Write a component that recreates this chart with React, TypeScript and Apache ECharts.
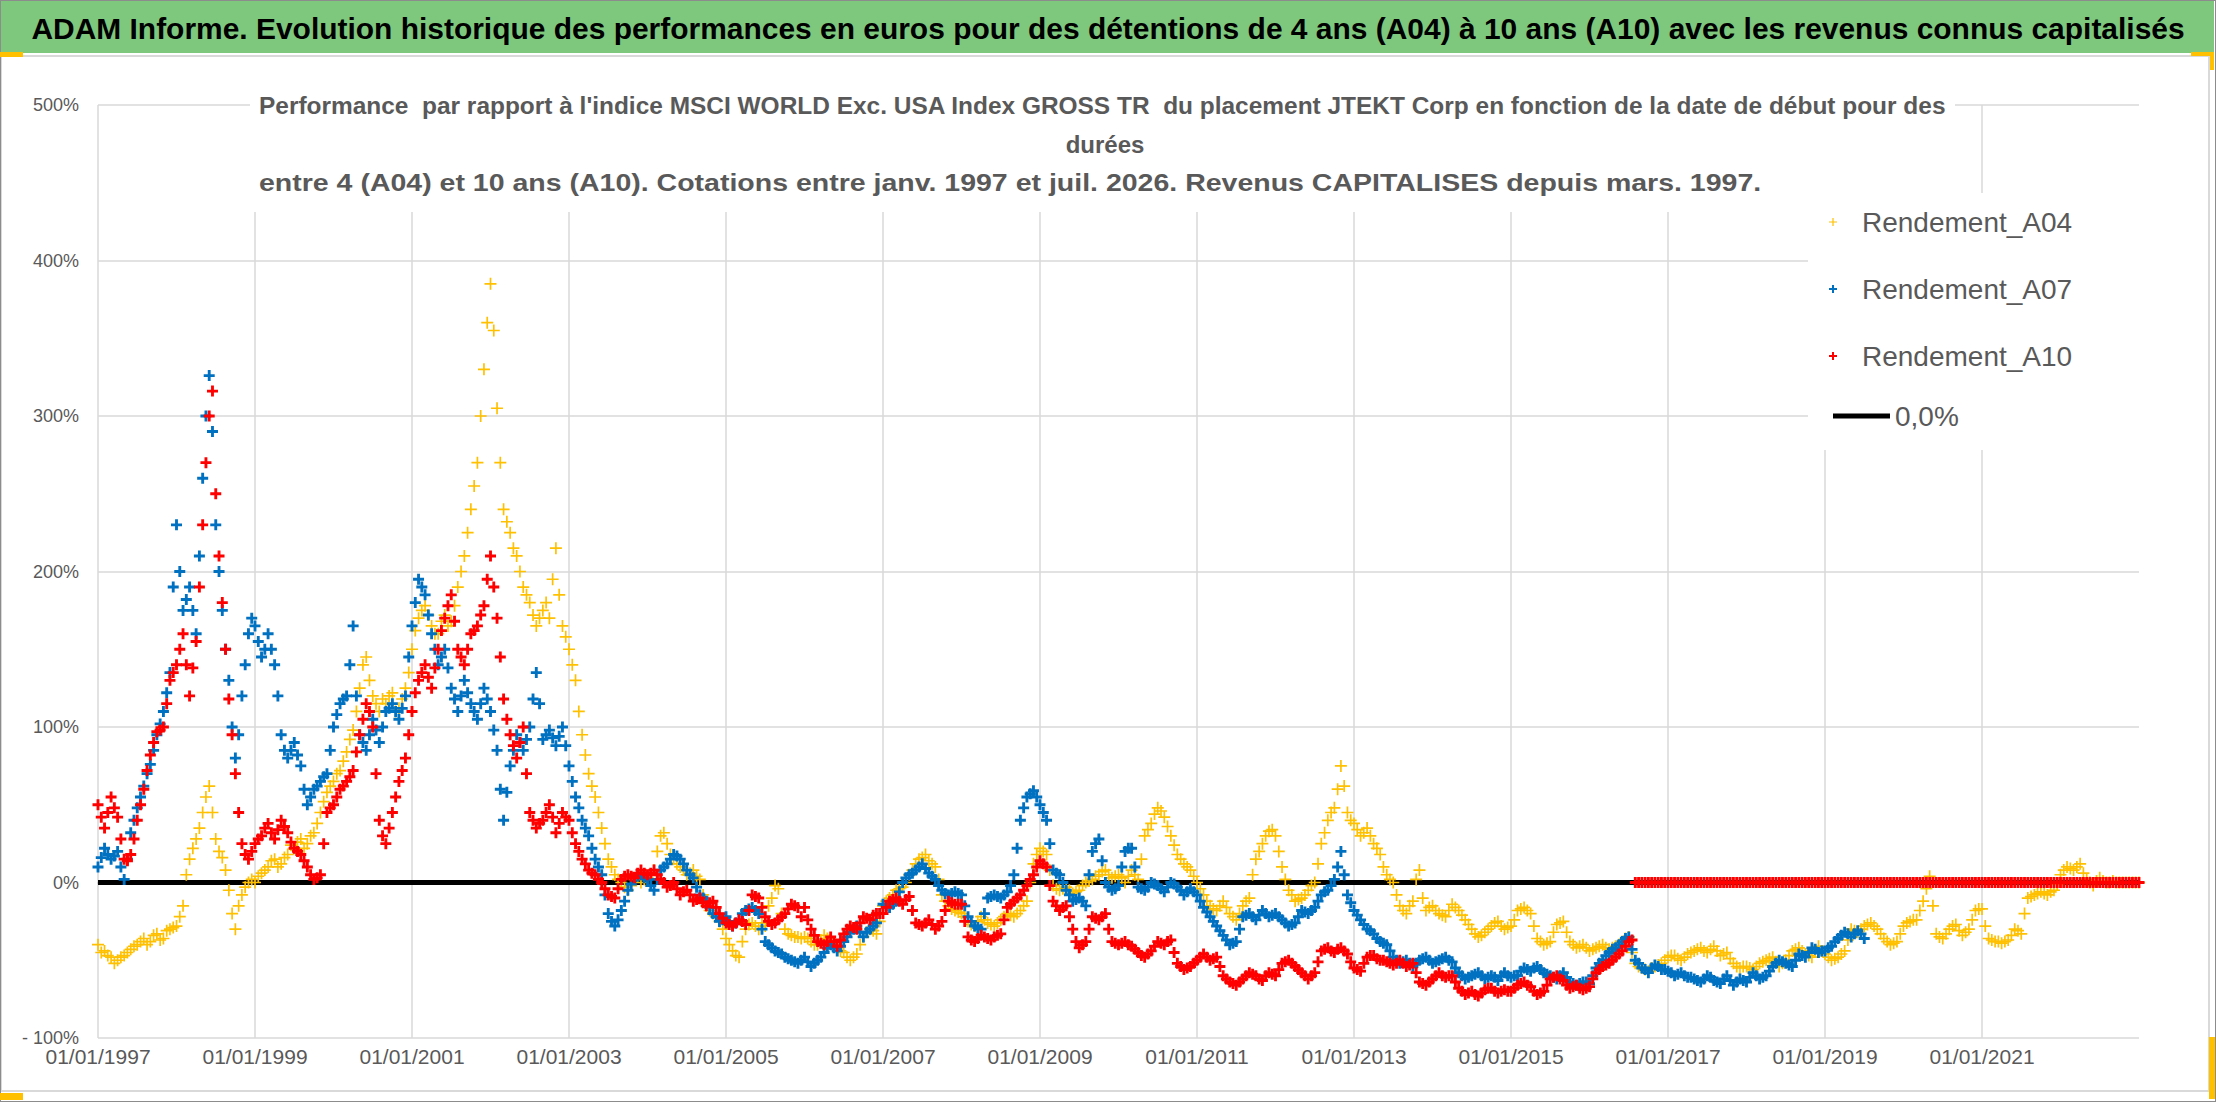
import { useEffect, useRef } from 'react'
import * as echarts from 'echarts'

// valeurs, à partir de janv. 1997 :
// une lecture en début de mois (A..) et une en milieu de mois (A.._MID)
const START_YEAR = 1997

const A04 = [
  -40, -44, -48, -50, -47, -43, -40, -36, -38, -33, -36, -30, // 1997
  -28, -15, 15, 28, 45, 62, 28, 16, -5, -30, -8, 0, // 1998
  0, 6, 10, 15, 12, 18, 22, 28, 25, 32, 45, 58, // 1999
  65, 72, 84, 98, 125, 145, 120, 110, 115, 122, 112, 125, // 2000
  150, 170, 178, 165, 160, 172, 168, 190, 210, 240, 270, 330, // 2001
  385, 305, 240, 225, 210, 190, 180, 165, 175, 170, 215, 165, // 2002
  150, 130, 95, 70, 55, 35, 15, 5, 0, -5, 2, 0, // 2003
  3, 8, 30, 25, 15, 10, 5, 8, 2, -15, -20, -25, // 2004
  -36, -44, -48, -30, -26, -30, -28, -10, -4, -30, -34, -35, // 2005
  -35, -38, -40, -34, -38, -42, -45, -50, -46, -35, -30, -33, // 2006
  -15, -10, -5, -3, 5, 12, 16, 14, 10, -8, -15, -18, // 2007
  -20, -25, -28, -22, -26, -28, -24, -20, -22, -18, -12, 12, // 2008
  22, 18, -2, -5, -3, -7, -5, 0, 2, 5, 8, 3, // 2009
  5, 0, 8, 2, 30, 38, 48, 42, 30, 18, 12, 8, // 2010
  0, -8, -15, -18, -12, -20, -24, -15, -10, 15, 25, 33, // 2011
  30, 10, -5, -12, -10, -5, 0, 25, 40, 48, 75, 45, // 2012
  38, 30, 35, 25, 18, 5, 0, -15, -20, -12, 8, -18, // 2013
  -15, -20, -22, -14, -18, -24, -30, -35, -32, -28, -25, -30, // 2014
  -28, -18, -16, -20, -36, -40, -38, -27, -25, -38, -42, -40, // 2015
  -44, -42, -40, -43, -41, -38, -35, -52, -55, -57, -54, -52, // 2016
  -48, -47, -50, -46, -44, -42, -45, -41, -47, -45, -52, -55, // 2017
  -54, -56, -52, -50, -48, -54, -50, -44, -42, -46, -48, -41, // 2018
  -46, -50, -48, -44, -30, -32, -28, -26, -30, -36, -40, -38, // 2019
  -28, -25, -24, -12, 4, -33, -36, -30, -27, -34, -30, -18, // 2020
  -17, -36, -38, -39, -37, -30, -33, -10, -8, -6, -8, -5, // 2021
  5, 10, 8, 12, 2, -2, 3, 0, 1, 0, 0, 0, // 2022
  0, // 2023
]

const A04_MID = [
  -45, -47, -52, -48, -45, -41, -38, -40, -34, -37, -31, -29, // 1997
  -22, 5, 22, 35, 55, 45, 20, 8, -20, -15, -3, 2, // 1998
  4, 8, 14, 10, 16, 24, 26, 22, 30, 38, 52, 62, // 1999
  70, 78, 92, 110, 140, 130, 115, 118, 120, 110, 118, 135, // 2000
  162, 175, 172, 160, 168, 165, 178, 200, 225, 255, 300, 360, // 2001
  355, 270, 232, 215, 200, 185, 172, 170, 180, 195, 185, 158, // 2002
  140, 110, 82, 62, 45, 25, 10, 2, -3, -2, 4, 2, // 2003
  5, 20, 32, 18, 12, 8, 6, 4, -8, -18, -22, -30, // 2004
  -40, -47, -38, -27, -28, -26, -15, -2, -20, -33, -35, -36, // 2005
  -36, -40, -37, -36, -40, -44, -48, -48, -40, -32, -31, -25, // 2006
  -12, -8, -4, 0, 8, 15, 18, 12, 2, -12, -17, -19, // 2007
  -22, -27, -25, -24, -27, -26, -22, -21, -20, -15, 0, 18, // 2008
  20, 8, -4, -4, -5, -6, -2, 1, 4, 7, 5, 4, // 2009
  3, 4, 5, 15, 34, 44, 46, 36, 24, 15, 10, 4, // 2010
  -4, -12, -17, -15, -16, -22, -20, -12, 5, 20, 30, 34, // 2011
  20, 2, -8, -11, -8, -2, 12, 32, 45, 60, 62, 40, // 2012
  34, 32, 30, 22, 10, 2, -8, -18, -15, 2, -10, -16, // 2013
  -18, -21, -18, -16, -21, -27, -33, -34, -30, -26, -28, -29, // 2014
  -24, -17, -18, -28, -38, -39, -32, -26, -32, -40, -41, -42, // 2015
  -43, -41, -42, -42, -40, -36, -45, -54, -56, -55, -53, -50, // 2016
  -47, -49, -48, -45, -43, -44, -43, -44, -46, -49, -54, -54, // 2017
  -55, -54, -51, -49, -51, -52, -47, -43, -44, -47, -44, -44, // 2018
  -48, -49, -46, -37, -31, -30, -27, -28, -33, -38, -39, -33, // 2019
  -26, -24, -18, -4, -15, -35, -33, -28, -31, -32, -24, -17, // 2020
  -28, -37, -38, -38, -34, -31, -20, -9, -7, -7, -6, -1, // 2021
  8, 9, 10, 6, 0, 1, 1, 0, 0, 0, 0, 0, // 2022
]

const A07 = [
  10, 22, 15, 20, 2, 32, 48, 62, 76, 95, 110, 135, // 1997
  230, 175, 190, 160, 260, 326, 230, 175, 130, 80, 120, 160, // 1998
  165, 145, 160, 140, 95, 80, 90, 75, 50, 60, 65, 70, // 1999
  100, 115, 120, 165, 95, 85, 105, 90, 110, 115, 105, 120, // 2000
  165, 195, 185, 160, 140, 150, 125, 110, 130, 115, 105, 125, // 2001
  110, 85, 40, 75, 95, 85, 100, 135, 92, 98, 88, 100, // 2002
  75, 55, 40, 30, 15, 5, -20, -28, -18, -5, 3, 5, // 2003
  2, -5, 8, 12, 18, 15, 8, 3, -8, -12, -20, -25, // 2004
  -22, -28, -24, -18, -16, -20, -38, -42, -45, -48, -50, -52, // 2005
  -48, -54, -50, -45, -40, -44, -38, -32, -28, -35, -30, -26, // 2006
  -14, -16, -12, 0, 5, 8, 12, 6, 2, -5, -8, -6, // 2007
  -8, -22, -28, -30, -10, -8, -10, -6, 5, 40, 55, 59, // 2008
  50, 40, 8, 5, -5, -12, -10, -15, 20, 28, 0, -5, // 2009
  -2, 20, 22, -3, -5, 0, -2, -6, 0, -3, -8, -4, // 2010
  -8, -16, -22, -28, -34, -40, -38, -22, -20, -24, -18, -22, // 2011
  -20, -24, -28, -26, -18, -20, -16, -8, -5, 2, 20, -8, // 2012
  -18, -24, -30, -33, -38, -40, -48, -52, -50, -54, -50, -48, // 2013
  -52, -50, -48, -51, -58, -62, -60, -58, -62, -60, -63, -58, // 2014
  -61, -60, -55, -57, -54, -58, -60, -62, -58, -64, -66, -64, // 2015
  -65, -55, -50, -45, -42, -38, -35, -50, -55, -58, -53, -56, // 2016
  -57, -60, -58, -61, -62, -64, -60, -63, -65, -60, -66, -62, // 2017
  -64, -58, -62, -60, -54, -50, -52, -54, -46, -48, -42, -45, // 2018
  -44, -41, -36, -32, -35, -31, -36, // 2019
]

const A07_MID = [
  16, 18, 17, 10, 15, 40, 55, 70, 85, 102, 122, 190, // 1997
  200, 182, 175, 210, 300, 290, 200, 150, 100, 95, 140, 170, // 1998
  155, 150, 150, 120, 85, 85, 82, 60, 55, 62, 68, 85, // 1999
  108, 118, 140, 120, 90, 95, 98, 100, 112, 110, 112, 145, // 2000
  180, 190, 172, 150, 145, 138, 118, 120, 122, 110, 115, 118, // 2001
  98, 60, 58, 85, 90, 92, 118, 115, 95, 93, 94, 88, // 2002
  65, 48, 35, 22, 10, -8, -25, -24, -12, -1, 4, 3, // 2003
  -2, 2, 10, 15, 17, 12, 5, -3, -10, -16, -22, -24, // 2004
  -25, -26, -20, -17, -18, -30, -40, -44, -46, -49, -51, -50, // 2005
  -51, -52, -48, -42, -42, -41, -35, -30, -32, -32, -28, -20, // 2006
  -15, -14, -6, 3, 6, 10, 9, 4, -2, -7, -7, -7, // 2007
  -15, -25, -29, -20, -9, -9, -8, -2, 22, 48, 57, 55, // 2008
  45, 25, 6, 0, -8, -11, -12, 5, 25, 14, -3, -4, // 2009
  10, 22, 10, -4, -3, -1, -4, -3, -1, -5, -6, -6, // 2010
  -12, -19, -25, -31, -37, -39, -30, -21, -22, -21, -20, -21, // 2011
  -22, -26, -27, -22, -19, -18, -12, -6, -2, 10, 5, -13, // 2012
  -21, -27, -31, -36, -39, -44, -50, -51, -52, -52, -49, -50, // 2013
  -51, -49, -50, -55, -60, -61, -59, -60, -61, -61, -60, -60, // 2014
  -60, -57, -56, -55, -56, -59, -61, -60, -61, -65, -65, -64, // 2015
  -60, -52, -47, -43, -40, -36, -43, -52, -56, -55, -54, -56, // 2016
  -58, -59, -60, -61, -63, -62, -61, -64, -62, -63, -64, -63, // 2017
  -61, -60, -61, -57, -52, -51, -53, -50, -47, -45, -43, -44, // 2018
  -42, -38, -34, -33, -33, -33, // 2019
]

const A10 = [
  50, 35, 55, 42, 15, 18, 40, 60, 82, 97, 100, 130, // 1997
  140, 160, 120, 155, 230, 300, 250, 180, 118, 70, 25, 15, // 1998
  25, 30, 38, 28, 40, 32, 22, 18, 10, 2, 5, 45, // 1999
  50, 60, 65, 72, 95, 115, 100, 40, 25, 45, 65, 80, // 2000
  110, 130, 140, 125, 150, 170, 185, 150, 140, 160, 165, 178, // 2001
  210, 170, 118, 95, 80, 100, 45, 35, 40, 50, 32, 45, // 2002
  40, 25, 15, 8, 5, 0, -8, -10, 2, 5, 3, 8, // 2003
  5, 8, 2, -3, 0, -8, -5, -12, -10, -15, -12, -20, // 2004
  -26, -28, -24, -27, -8, -10, -22, -27, -24, -20, -14, -16, // 2005
  -16, -30, -38, -40, -35, -41, -33, -28, -30, -22, -24, -20, // 2006
  -20, -12, -10, -14, -9, -26, -28, -24, -30, -25, -12, -14, // 2007
  -14, -35, -38, -34, -36, -35, -33, -16, -12, -8, -2, 5, // 2008
  14, 10, -12, -18, -15, -30, -42, -38, -22, -24, -20, -38, // 2009
  -40, -38, -41, -45, -48, -44, -38, -40, -37, -52, -56, -54, // 2010
  -50, -46, -50, -48, -60, -64, -66, -62, -58, -60, -63, -58, // 2011
  -60, -52, -50, -54, -58, -62, -58, -44, -42, -45, -42, -46, // 2012
  -55, -57, -48, -47, -50, -51, -53, -50, -54, -52, -64, -66, // 2013
  -62, -58, -61, -60, -68, -72, -70, -73, -69, -68, -71, -69, // 2014
  -70, -66, -64, -67, -72, -70, -62, -60, -63, -68, -66, -69, // 2015
  -67, -58, -54, -52, -48, -44, -38, 0, 0, 0, 0, 0, // 2016
  0, 0, 0, 0, 0, 0, 0, 0, 0, 0, 0, 0, // 2017
  0, 0, 0, 0, 0, 0, 0, 0, 0, 0, 0, 0, // 2018
  0, 0, 0, 0, 0, 0, 0, 0, 0, 0, 0, 0, // 2019
  0, 0, 0, 0, 0, 0, 0, 0, 0, 0, 0, 0, // 2020
  0, 0, 0, 0, 0, 0, 0, 0, 0, 0, 0, 0, // 2021
  0, 0, 0, 0, 0, 0, 0, 0, 0, 0, 0, 0, // 2022
  0, // 2023
]

const A10_MID = [
  42, 45, 48, 28, 14, 28, 50, 72, 90, 98, 115, 135, // 1997
  150, 140, 138, 190, 270, 316, 210, 150, 95, 45, 18, 20, // 1998
  28, 35, 32, 34, 36, 26, 20, 14, 5, 3, 25, 48, // 1999
  55, 62, 68, 84, 105, 110, 70, 30, 35, 55, 72, 95, // 2000
  122, 135, 132, 138, 162, 178, 168, 145, 150, 162, 172, 195, // 2001
  190, 145, 105, 88, 90, 70, 40, 38, 45, 42, 38, 42, // 2002
  32, 20, 12, 6, 2, -4, -9, -4, 4, 4, 6, 6, // 2003
  6, 5, 0, -2, -4, -6, -8, -11, -13, -13, -16, -23, // 2004
  -27, -26, -25, -18, -9, -16, -25, -26, -22, -17, -15, -22, // 2005
  -24, -34, -39, -38, -38, -37, -30, -29, -26, -23, -21, -20, // 2006
  -16, -11, -12, -11, -18, -27, -26, -27, -28, -18, -13, -14, // 2007
  -25, -37, -36, -35, -37, -34, -24, -14, -10, -5, 2, 10, // 2008
  12, -2, -15, -16, -22, -38, -40, -30, -23, -22, -30, -39, // 2009
  -39, -40, -43, -47, -46, -41, -39, -38, -45, -54, -55, -52, // 2010
  -48, -48, -49, -54, -62, -65, -64, -60, -59, -62, -60, -59, // 2011
  -56, -51, -52, -56, -60, -60, -51, -43, -44, -43, -44, -51, // 2012
  -56, -52, -47, -49, -50, -52, -52, -52, -53, -58, -65, -64, // 2013
  -60, -60, -60, -64, -70, -71, -72, -71, -68, -70, -70, -70, // 2014
  -68, -65, -66, -70, -71, -66, -61, -62, -66, -67, -68, -68, // 2015
  -62, -56, -53, -50, -46, -41, -37, 0, 0, 0, 0, 0, // 2016
  0, 0, 0, 0, 0, 0, 0, 0, 0, 0, 0, 0, // 2017
  0, 0, 0, 0, 0, 0, 0, 0, 0, 0, 0, 0, // 2018
  0, 0, 0, 0, 0, 0, 0, 0, 0, 0, 0, 0, // 2019
  0, 0, 0, 0, 0, 0, 0, 0, 0, 0, 0, 0, // 2020
  0, 0, 0, 0, 0, 0, 0, 0, 0, 0, 0, 0, // 2021
  0, 0, 0, 0, 0, 0, 0, 0, 0, 0, 0, 0, // 2022
]

const ZERO_LINE = [[1997, 0], [2023, 0]]

const X_MIN = 1997
const X_MAX = 2023
const Y_MIN = -100
const Y_MAX = 500

const TITLE = 'ADAM Informe. Evolution historique des performances en euros pour des détentions de 4 ans (A04) à 10 ans (A10) avec les revenus connus capitalisés'
const SUB_1 = "Performance  par rapport à l'indice MSCI WORLD Exc. USA Index GROSS TR  du placement JTEKT Corp en fonction de la date de début pour des"
const SUB_2 = 'durées'
const SUB_3 = 'entre 4 (A04) et 10 ans (A10). Cotations entre janv. 1997 et juil. 2026. Revenus CAPITALISES depuis mars. 1997.'

const FONT = '"Liberation Sans", Arial, sans-serif'
const GREY = '#595959'

// croix "+" : fine pour A04, épaisse pour A07 / A10
const PLUS_THIN = 'path://M4.3,0H5.7V4.3H10V5.7H5.7V10H4.3V5.7H0V4.3H4.3Z'
const PLUS_BOLD = 'path://M3.7,0H6.3V3.7H10V6.3H6.3V10H3.7V6.3H0V3.7H3.7Z'
// icônes de légende (coins fantômes pour garder la boîte voulue)
const ICON_THIN = 'path://M0,0L0,0M34,14L34,14M9.4,3H10.6V6.4H14V7.6H10.6V11H9.4V7.6H6V6.4H9.4Z'
const ICON_BOLD = 'path://M0,0L0,0M34,14L34,14M9,3H11V6H14V8H11V11H9V8H6V6H9Z'
const ICON_LINE = 'path://M0,0L0,0M0,4.5H57V9.5H0ZM57,14L57,14'

const toPoints = (values: number[], mid: number[]) => [
  ...values.map((v, i) => [START_YEAR + i / 12, v]),
  ...mid.map((v, i) => [START_YEAR + (i + 0.5) / 12, v]),
]

// facteur d'étirement horizontal pour caler un texte sur la largeur du modèle
const fitScale = (text: string, font: string, width: number) => {
  const ctx = document.createElement('canvas').getContext('2d')
  if (!ctx) return 1
  ctx.font = font
  const w = ctx.measureText(text).width
  return w > 0 ? width / w : 1
}

export default function App() {
  const chartRef = useRef<HTMLDivElement>(null)

  useEffect(() => {
    if (!chartRef.current) return
    const chart = echarts.init(chartRef.current, null, { renderer: 'svg' })

    const subFont = `bold 24px ${FONT}`
    const titleFont = `bold 29px ${FONT}`
    const titleScale = fitScale(TITLE, titleFont, 2154)
    const sub1Scale = fitScale(SUB_1, subFont, 1688)
    const sub3Scale = fitScale(SUB_3, subFont, 1503)

    const textStyle = (text: string, fill: string, size: number, align: string) => ({
      text,
      fill,
      fontSize: size,
      fontWeight: 'bold',
      fontFamily: FONT,
      align,
      verticalAlign: 'middle',
      textAlign: align,
      textVerticalAlign: 'middle',
    })

    const option: any = {
      animation: false,
      backgroundColor: '#ffffff',
      grid: { left: 98, right: 77, top: 105, bottom: 64, containLabel: false },
      xAxis: {
        type: 'value',
        min: X_MIN,
        max: X_MAX,
        interval: 2,
        axisLine: { show: true, lineStyle: { color: '#c8c8c8', width: 2 } },
        axisTick: { show: false },
        axisLabel: {
          formatter: (v: number) => `01/01/${v}`,
          fontSize: 21,
          fontFamily: FONT,
          color: GREY,
          margin: 8,
          showMaxLabel: false,
        },
        splitLine: { show: true, showMaxLine: false, lineStyle: { color: '#d9d9d9', width: 1.5 } },
      },
      yAxis: {
        type: 'value',
        min: Y_MIN,
        max: Y_MAX,
        interval: 100,
        axisLine: { show: false },
        axisTick: { show: false },
        axisLabel: {
          formatter: (v: number) => (v < 0 ? `- ${-v}%` : `${v}%`),
          fontSize: 18,
          fontFamily: FONT,
          color: GREY,
          margin: 19,
        },
        splitLine: { show: true, lineStyle: { color: '#d9d9d9', width: 1.5 } },
      },
      legend: [
        {
          data: [
            { name: 'Rendement_A04', icon: ICON_THIN },
            { name: 'Rendement_A07', icon: ICON_BOLD },
            { name: 'Rendement_A10', icon: ICON_BOLD },
          ],
          orient: 'vertical',
          left: 1823,
          top: 208,
          padding: 0,
          itemWidth: 34,
          itemHeight: 14,
          itemGap: 39,
          selectedMode: false,
          textStyle: { fontSize: 28, fontFamily: FONT, color: GREY },
        },
        {
          data: [{ name: '0,0%', icon: ICON_LINE }],
          orient: 'vertical',
          left: 1833,
          top: 402,
          padding: 0,
          itemWidth: 57,
          itemHeight: 14,
          selectedMode: false,
          textStyle: { fontSize: 28, fontFamily: FONT, color: GREY },
        },
      ],
      graphic: [
        // bandeau vert du titre
        { type: 'rect', z: 1, shape: { x: 0, y: 0, width: 2214, height: 53 }, style: { fill: '#7ec87e' } },
        // cadre du graphique
        { type: 'rect', z: 1, shape: { x: 1, y: 56, width: 2208, height: 1035 }, style: { fill: 'none', stroke: '#d9d9d9', lineWidth: 2 } },
        { type: 'rect', z: 1, shape: { x: 0, y: 0, width: 2216, height: 1102 }, style: { fill: 'none', stroke: '#8c8c8c', lineWidth: 2 } },
        // poignées de sélection
        { type: 'rect', z: 6, shape: { x: 0, y: 52, width: 23, height: 5 }, style: { fill: '#ffc000' } },
        { type: 'rect', z: 6, shape: { x: 2191, y: 52, width: 23, height: 4 }, style: { fill: '#ffc000' } },
        { type: 'rect', z: 6, shape: { x: 2210, y: 52, width: 4, height: 18 }, style: { fill: '#ffc000' } },
        { type: 'rect', z: 6, shape: { x: 2209, y: 1037, width: 6, height: 62 }, style: { fill: '#ffc000' } },
        { type: 'rect', z: 6, shape: { x: 0, y: 1093, width: 23, height: 7 }, style: { fill: '#ffc000' } },
        // fonds blancs du titre du graphique et de la légende
        { type: 'rect', z: 1, shape: { x: 250, y: 92, width: 1705, height: 120 }, style: { fill: '#ffffff' } },
        { type: 'rect', z: 1, shape: { x: 1808, y: 193, width: 332, height: 257 }, style: { fill: '#ffffff' } },
        { type: 'text', z: 7, x: 1108, y: 29, scaleX: titleScale, style: textStyle(TITLE, '#000000', 29, 'center') },
        { type: 'text', z: 7, x: 259, y: 106, scaleX: sub1Scale, style: textStyle(SUB_1, GREY, 24, 'left') },
        { type: 'text', z: 7, x: 1105, y: 144, style: textStyle(SUB_2, GREY, 24, 'center') },
        { type: 'text', z: 7, x: 259, y: 183, scaleX: sub3Scale, style: textStyle(SUB_3, GREY, 24, 'left') },
      ],
      series: [
        {
          name: 'Rendement_A04',
          type: 'scatter',
          data: toPoints(A04, A04_MID),
          symbol: PLUS_THIN,
          symbolSize: 12,
          itemStyle: { color: '#ffc000', opacity: 1 },
          emphasis: { disabled: true },
          z: 2,
        },
        {
          name: 'Rendement_A07',
          type: 'scatter',
          data: toPoints(A07, A07_MID),
          symbol: PLUS_BOLD,
          symbolSize: 11,
          itemStyle: { color: '#0070c0', opacity: 1 },
          emphasis: { disabled: true },
          z: 2,
        },
        {
          name: '0,0%',
          type: 'line',
          data: ZERO_LINE,
          symbol: 'none',
          showSymbol: false,
          lineStyle: { color: '#000000', width: 5 },
          itemStyle: { color: '#000000' },
          silent: true,
          z: 2,
        },
        {
          name: 'Rendement_A10',
          type: 'scatter',
          data: toPoints(A10, A10_MID),
          symbol: PLUS_BOLD,
          symbolSize: 11,
          itemStyle: { color: '#ff0000', opacity: 1 },
          emphasis: { disabled: true },
          z: 2,
        },
      ],
    }

    chart.setOption(option)

    return () => {
      chart.dispose()
    }
  }, [])

  return (
    <div
      ref={chartRef}
      style={{ position: 'absolute', left: 0, top: 0, width: 2216, height: 1102 }}
    />
  )
}
